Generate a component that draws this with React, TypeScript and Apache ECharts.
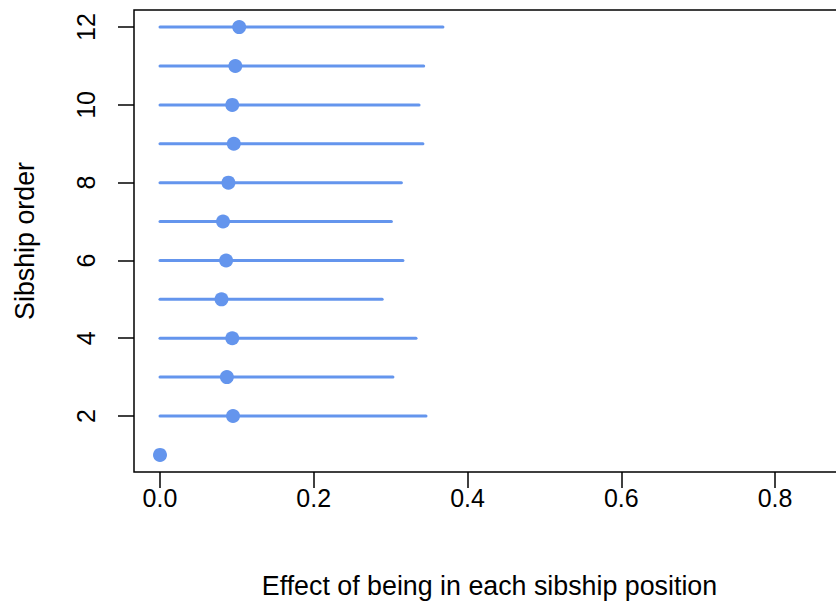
import React, { useEffect, useRef } from "react";
import * as echarts from "echarts";

// Sibship position (y) with point estimate and interval bounds (x)
const order = [1, 2, 3, 4, 5, 6, 7, 8, 9, 10, 11, 12];
const estimate = [0, 0.095, 0.087, 0.094, 0.080, 0.086, 0.082, 0.089, 0.096, 0.094, 0.098, 0.103];
const lower = [0, 0, 0, 0, 0, 0, 0, 0, 0, 0, 0, 0];
const upper = [0, 0.346, 0.303, 0.333, 0.289, 0.316, 0.301, 0.314, 0.342, 0.337, 0.343, 0.368];

const xTicks = [0, 0.2, 0.4, 0.6, 0.8];
const yTicks = [2, 4, 6, 8, 10, 12];

const BLUE = "#6495ED";
const FONT = "Liberation Sans, Arial, Helvetica, sans-serif";

export default function App() {
  const ref = useRef<HTMLDivElement>(null);

  useEffect(() => {
    if (!ref.current) return;
    const chart = echarts.init(ref.current, undefined, { renderer: "svg" });

    const intervals = order.map((o, i) => [lower[i], upper[i], o]);
    const points = order.map((o, i) => [estimate[i], o]);

    chart.setOption({
      animation: false,
      backgroundColor: "#ffffff",
      grid: {
        left: 134,
        top: 10,
        right: 2,
        bottom: 133,
        show: true,
        borderColor: "#000000",
        borderWidth: 1.5,
        backgroundColor: "transparent",
      },
      xAxis: {
        type: "value",
        min: -0.0338,
        max: 0.891,
        splitLine: { show: false },
        axisLine: { show: false, onZero: false },
        axisTick: {
          show: true,
          inside: false,
          length: 16,
          customValues: xTicks,
          lineStyle: { color: "#000", width: 1.5 },
        },
        axisLabel: {
          customValues: xTicks,
          formatter: (v: number) => v.toFixed(1),
          margin: 13,
          fontSize: 25,
          color: "#000",
          fontFamily: FONT,
        },
        name: "Effect of being in each sibship position",
        nameLocation: "middle",
        nameGap: 100,
        nameTextStyle: { fontSize: 26.8, color: "#000", fontFamily: FONT },
      },
      yAxis: {
        type: "value",
        min: 0.56,
        max: 12.44,
        splitLine: { show: false },
        axisLine: { show: false, onZero: false },
        axisTick: {
          show: true,
          inside: false,
          length: 16,
          customValues: yTicks,
          lineStyle: { color: "#000", width: 1.5 },
        },
        axisLabel: {
          customValues: yTicks,
          rotate: 90,
          margin: 36,
          fontSize: 25,
          color: "#000",
          fontFamily: FONT,
        },
        name: "Sibship order",
        nameLocation: "middle",
        nameGap: 96,
        nameRotate: 90,
        nameTextStyle: { fontSize: 26.8, color: "#000", fontFamily: FONT },
      },
      series: [
        {
          type: "custom",
          data: intervals,
          z: 2,
          renderItem: (_params: any, api: any) => {
            const lo = api.coord([api.value(0), api.value(2)]);
            const hi = api.coord([api.value(1), api.value(2)]);
            if (api.value(1) === api.value(0)) return null;
            return {
              type: "line",
              shape: { x1: lo[0], y1: lo[1], x2: hi[0], y2: hi[1] },
              style: { stroke: BLUE, lineWidth: 3, lineCap: "round" },
            };
          },
        },
        {
          type: "scatter",
          data: points,
          symbol: "circle",
          symbolSize: 14,
          z: 3,
          itemStyle: { color: BLUE, opacity: 1 },
        },
      ],
    });

    return () => chart.dispose();
  }, []);

  // The chart is slightly wider than the page so the plot frame runs off its right edge
  return (
    <div style={{ position: "fixed", left: 0, top: 0, width: 836, height: 605, overflow: "hidden" }}>
      <div ref={ref} style={{ width: 847, height: 605 }} />
    </div>
  );
}
